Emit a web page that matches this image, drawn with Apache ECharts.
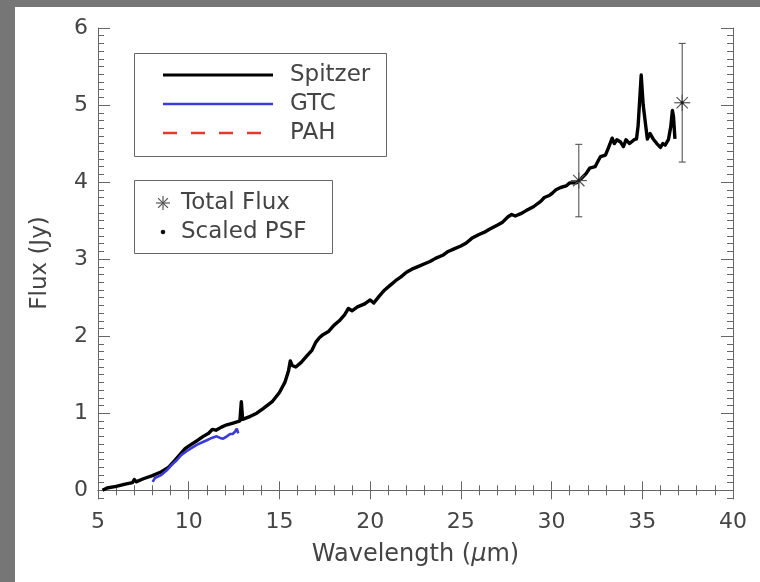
<!DOCTYPE html>
<html><head><meta charset="utf-8">
<script src="https://cdn.jsdelivr.net/npm/echarts@6/dist/echarts.min.js"></script>
<style>html,body{margin:0;padding:0;background:#fff}#c{width:760px;height:582px}</style>
</head><body><div id="c"></div>
<script>
const xTicks = [5, 10, 15, 20, 25, 30, 35, 40];
const yTicks = [0, 1, 2, 3, 4, 5, 6];
const spitzerWave = [5.25,5.5,6.0,6.5,6.9,7.0,7.1,7.5,8.0,8.5,8.9,9.2,9.5,9.8,10.1,10.5,10.8,11.1,11.3,11.5,11.8,12.1,12.4,12.7,12.82,12.9,12.97,13.0,13.4,13.75,14.1,14.6,15.0,15.3,15.5,15.6,15.7,15.9,16.2,16.5,16.8,17.0,17.2,17.4,17.7,18.0,18.3,18.6,18.8,19.0,19.3,19.7,20.0,20.2,20.5,20.8,21.1,21.4,21.7,22.0,22.3,22.7,23.0,23.3,23.6,24.0,24.3,24.6,25.0,25.3,25.6,26.0,26.3,26.6,27.0,27.3,27.6,27.8,28.0,28.3,28.6,29.0,29.4,29.6,29.9,30.06,30.24,30.5,30.8,31.0,31.38,31.65,31.9,32.1,32.4,32.6,32.7,32.97,33.16,33.34,33.46,33.6,33.8,33.96,34.1,34.3,34.55,34.68,34.77,34.94,35.05,35.2,35.28,35.43,35.6,35.8,36.0,36.13,36.26,36.44,36.57,36.66,36.72,36.8];
const spitzerFlux = [0.00,0.03,0.05,0.08,0.10,0.14,0.11,0.15,0.19,0.24,0.30,0.38,0.46,0.54,0.59,0.65,0.70,0.74,0.79,0.78,0.82,0.85,0.87,0.89,0.90,1.15,0.92,0.91,0.96,1.00,1.06,1.15,1.27,1.40,1.55,1.68,1.62,1.60,1.66,1.74,1.82,1.92,1.98,2.02,2.06,2.14,2.20,2.28,2.36,2.33,2.38,2.42,2.47,2.43,2.52,2.60,2.66,2.72,2.77,2.83,2.87,2.91,2.94,2.97,3.01,3.05,3.10,3.13,3.17,3.21,3.27,3.32,3.35,3.39,3.44,3.48,3.55,3.58,3.56,3.59,3.63,3.68,3.75,3.80,3.83,3.86,3.90,3.93,3.95,3.99,3.99,4.05,4.11,4.18,4.20,4.29,4.33,4.35,4.46,4.57,4.50,4.55,4.52,4.46,4.55,4.50,4.55,4.56,4.73,5.39,5.00,4.71,4.56,4.63,4.56,4.50,4.45,4.50,4.48,4.55,4.72,4.93,4.85,4.56];
const gtcWave = [8.01,8.14,8.33,8.5,8.79,9.06,9.34,9.6,9.9,10.17,10.44,10.72,11.0,11.27,11.54,11.73,11.9,12.1,12.28,12.42,12.55,12.65,12.73];
const gtcFlux = [0.11,0.16,0.18,0.20,0.26,0.33,0.39,0.46,0.51,0.55,0.59,0.62,0.65,0.68,0.70,0.68,0.67,0.70,0.73,0.73,0.76,0.80,0.74];
const photWave = [31.5, 37.2];
const photFlux = [4.02, 5.03];
const photErr = [0.47, 0.77];
const psfWave = [31.5, 37.2];
const psfFlux = [4.02, 5.03];
const legendLines = ['Spitzer', 'GTC', 'PAH'];
const legendSymbols = ['Total Flux', 'Scaled PSF'];

const FONT = "'DejaVu Sans', Verdana, sans-serif";
const TXT = '#444';
const AX = '#666';
const zip = (a, b) => a.map((v, i) => [v, b[i]]);
const minorY = [];
for (let i = -1; i <= 60; i++) minorY.push(i / 10);

const chart = echarts.init(document.getElementById('c'), null, {renderer: 'canvas'});

const axisBase = {
  axisLine: {show: true, lineStyle: {color: AX, width: 1}},
  splitLine: {show: false}
};

function asteriskLines(cx, cy, r) {
  const out = [];
  for (let k = 0; k < 4; k++) {
    const a = k * Math.PI / 4;
    const dx = r * Math.cos(a), dy = r * Math.sin(a);
    out.push({type: 'line', shape: {x1: cx - dx, y1: cy - dy, x2: cx + dx, y2: cy + dy},
      style: {stroke: '#555', lineWidth: 1.2}});
  }
  return out;
}

const LF = '23px ' + FONT;
const graphic = [
  {type: 'rect', left: 0, top: 0, shape: {x: 0, y: 0, width: 15, height: 582}, style: {fill: '#767676'}, z: 100},
  {type: 'rect', left: 0, top: 0, shape: {x: 0, y: 0, width: 760, height: 7}, style: {fill: '#767676'}, z: 100},
  {type: 'rect', shape: {x: 134.5, y: 53.5, width: 252, height: 103}, style: {fill: '#fff', stroke: AX, lineWidth: 1}, z: 50},
  {type: 'line', shape: {x1: 163, y1: 75, x2: 273, y2: 75}, style: {stroke: '#000', lineWidth: 3}, z: 51},
  {type: 'line', shape: {x1: 163, y1: 104, x2: 273, y2: 104}, style: {stroke: '#3b3bdc', lineWidth: 2.5}, z: 51},
  {type: 'line', shape: {x1: 163, y1: 133, x2: 273, y2: 133}, style: {stroke: '#e8392e', lineWidth: 2.5, lineDash: [14, 14]}, z: 51},
  {type: 'text', x: 290, y: 75, style: {text: legendLines[0], font: LF, fill: TXT, verticalAlign: 'middle'}, z: 51},
  {type: 'text', x: 290, y: 104, style: {text: legendLines[1], font: LF, fill: TXT, verticalAlign: 'middle'}, z: 51},
  {type: 'text', x: 290, y: 133, style: {text: legendLines[2], font: LF, fill: TXT, verticalAlign: 'middle'}, z: 51},
  {type: 'rect', shape: {x: 134.5, y: 180.5, width: 198, height: 73}, style: {fill: '#fff', stroke: AX, lineWidth: 1}, z: 50},
  {type: 'group', z: 51, children: asteriskLines(163, 203, 7).map(o => Object.assign(o, {z: 51}))},
  {type: 'circle', shape: {cx: 163, cy: 232, r: 2.3}, style: {fill: '#111'}, z: 51},
  {type: 'text', x: 181, y: 203, style: {text: legendSymbols[0], font: LF, fill: TXT, verticalAlign: 'middle'}, z: 51},
  {type: 'text', x: 181, y: 232, style: {text: legendSymbols[1], font: LF, fill: TXT, verticalAlign: 'middle'}, z: 51}
];

const option = {
  backgroundColor: '#fff',
  animation: false,
  textStyle: {fontFamily: FONT},
  grid: {left: 98, right: 27, top: 28, bottom: 84, containLabel: false},
  graphic: graphic,
  xAxis: [
    Object.assign({}, axisBase, {
      type: 'value', position: 'bottom', min: 5, max: 40, interval: 5,
      axisTick: {show: true, inside: true, length: 9, lineStyle: {color: AX}},
      minorTick: {show: true, splitNumber: 5, length: 5, lineStyle: {color: AX}},
      axisLabel: {show: true, fontSize: 22, color: TXT, margin: 13, fontFamily: FONT,
        customValues: xTicks, formatter: v => String(v)},
      name: 'Wavelength ({mu|μ}m)', nameLocation: 'middle', nameGap: 45,
      nameTextStyle: {fontSize: 24, color: TXT, fontFamily: FONT,
        rich: {mu: {fontSize: 24, fontStyle: 'italic', color: TXT, fontFamily: FONT}}}
    }),
    Object.assign({}, axisBase, {
      type: 'value', position: 'top', min: 5, max: 40, interval: 5,
      axisTick: {show: true, inside: true, length: 9, lineStyle: {color: AX}},
      minorTick: {show: true, splitNumber: 5, length: 5, lineStyle: {color: AX}},
      axisLabel: {show: false}
    })
  ],
  yAxis: [
    Object.assign({}, axisBase, {
      type: 'value', position: 'left', min: -0.1, max: 6,
      axisTick: {show: true, inside: true, length: 12, customValues: yTicks, lineStyle: {color: AX}},
      axisLabel: {show: true, fontSize: 22, color: TXT, margin: 10, fontFamily: FONT,
        customValues: yTicks, formatter: v => String(Math.round(v))},
      name: 'Flux (Jy)', nameLocation: 'middle', nameGap: 46, nameRotate: 90,
      nameTextStyle: {fontSize: 23, color: TXT, fontFamily: FONT}
    }),
    Object.assign({}, axisBase, {
      type: 'value', position: 'left', min: -0.1, max: 6,
      axisLine: {show: false},
      axisTick: {show: true, inside: true, length: 6, customValues: minorY, lineStyle: {color: AX}},
      axisLabel: {show: false}
    }),
    Object.assign({}, axisBase, {
      type: 'value', position: 'right', min: -0.1, max: 6,
      axisTick: {show: true, inside: true, length: 12, customValues: yTicks, lineStyle: {color: AX}},
      axisLabel: {show: false}
    }),
    Object.assign({}, axisBase, {
      type: 'value', position: 'right', min: -0.1, max: 6,
      axisLine: {show: false},
      axisTick: {show: true, inside: true, length: 6, customValues: minorY, lineStyle: {color: AX}},
      axisLabel: {show: false}
    })
  ],
  series: [
    {name: 'Spitzer', type: 'line', xAxisIndex: 0, yAxisIndex: 0, data: zip(spitzerWave, spitzerFlux),
      symbol: 'none', lineStyle: {color: '#000', width: 3.4, join: 'round'}, z: 5},
    {name: 'GTC', type: 'line', xAxisIndex: 0, yAxisIndex: 0, data: zip(gtcWave, gtcFlux),
      symbol: 'none', lineStyle: {color: '#3b3bdc', width: 2.6}, z: 6},
    {name: 'PAH', type: 'line', xAxisIndex: 0, yAxisIndex: 0, data: [],
      symbol: 'none', lineStyle: {color: '#e8392e', width: 2.5, type: 'dashed'}},
    {name: 'Total Flux', type: 'custom', xAxisIndex: 0, yAxisIndex: 0,
      data: photWave.map((w, i) => [w, photFlux[i], photErr[i]]),
      renderItem: function (params, api) {
        const x = api.value(0), y = api.value(1), e = api.value(2);
        const c = api.coord([x, y]);
        const t = api.coord([x, y + e]);
        const b = api.coord([x, y - e]);
        const st = {stroke: '#555', lineWidth: 1.1};
        const ch = [
          {type: 'line', shape: {x1: c[0], y1: t[1], x2: c[0], y2: b[1]}, style: st},
          {type: 'line', shape: {x1: c[0] - 3.5, y1: t[1], x2: c[0] + 3.5, y2: t[1]}, style: st},
          {type: 'line', shape: {x1: c[0] - 3.5, y1: b[1], x2: c[0] + 3.5, y2: b[1]}, style: st}
        ].concat(asteriskLines(c[0], c[1], 8));
        return {type: 'group', children: ch};
      }, z: 7},
    {name: 'Scaled PSF', type: 'scatter', xAxisIndex: 0, yAxisIndex: 0, data: zip(psfWave, psfFlux),
      symbol: 'circle', symbolSize: 3.5, itemStyle: {color: '#111'}, z: 8}
  ]
};
chart.setOption(option);
</script></body></html>
